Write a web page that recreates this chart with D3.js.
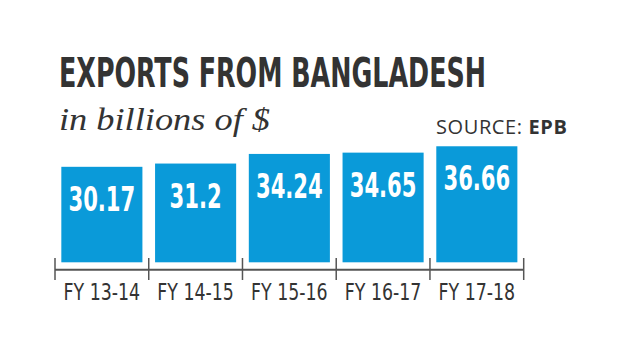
<!DOCTYPE html>
<html><head><meta charset="utf-8">
<script src="https://cdn.jsdelivr.net/npm/d3@7/dist/d3.min.js"></script>
<style>body{margin:0;background:#fff}</style>
</head><body>
<svg id="c" width="644" height="363"></svg>
<script>
const categories = ["FY 13-14","FY 14-15","FY 15-16","FY 16-17","FY 17-18"];
const values = [30.17, 31.2, 34.24, 34.65, 36.66];
const labels = ["30.17","31.2","34.24","34.65","36.66"];

const svg = d3.select("#c");
const condensed = "'Liberation Sans Narrow','DejaVu Sans Condensed','Arial Narrow',sans-serif";

function squeeze(sel, k){
  sel.each(function(){
    const w = this.getComputedTextLength();
    d3.select(this).attr("textLength", w*k).attr("lengthAdjust","spacingAndGlyphs");
  });
}

// Title
svg.append("text").attr("x",59).attr("y",87)
  .attr("font-family",condensed).attr("font-weight","bold").attr("font-size",40)
  .attr("fill","#333").attr("textLength",427).attr("lengthAdjust","spacingAndGlyphs")
  .text("EXPORTS FROM BANGLADESH");
svg.append("text").attr("x",59).attr("y",130)
  .attr("font-family","'Liberation Serif','DejaVu Serif',serif").attr("font-style","italic").attr("font-size",32)
  .attr("fill","#333").attr("textLength",211).attr("lengthAdjust","spacingAndGlyphs")
  .text("in billions of $");
const src = svg.append("text").attr("x",436).attr("y",134)
  .attr("font-family","'Open Sans',sans-serif").attr("font-size",20).attr("letter-spacing",0.6).attr("fill","#333");
src.append("tspan").text("SOURCE: ");
src.append("tspan").attr("font-weight","bold").text("EPB");

const x = d3.scaleBand().domain(categories).range([55,523.7]).paddingInner(0.135).paddingOuter(0.0675);
const y = d3.scaleLinear().domain([0,40]).range([262.3,262.3-126.6]);

svg.selectAll("rect.bar").data(values).join("rect").attr("class","bar")
  .attr("x",(d,i)=>x(categories[i])).attr("width",x.bandwidth())
  .attr("y",d=>y(d)).attr("height",d=>y(0)-y(d)).attr("fill","#0a9ad9");

svg.selectAll("text.val").data(values).join("text").attr("class","val")
  .attr("x",(d,i)=>x(categories[i])+x.bandwidth()/2).attr("y",d=>y(d)+44)
  .attr("text-anchor","middle").attr("font-family",condensed).attr("font-weight","bold")
  .attr("font-size",34).attr("fill","#fff")
  .text((d,i)=>labels[i])
  .call(squeeze, 0.69);

// axis
const axisY = 269.7;
const xr = x.range();
svg.append("line").attr("x1",xr[0]).attr("x2",xr[1]).attr("y1",axisY).attr("y2",axisY)
  .attr("stroke","#555").attr("stroke-width",2);
const tickXs = categories.map(c=>x(c)-x.step()*x.paddingInner()/2).concat([xr[1]]);
svg.selectAll("line.tick").data(tickXs).join("line").attr("class","tick")
  .attr("x1",d=>d).attr("x2",d=>d).attr("y1",258).attr("y2",280)
  .attr("stroke","#555").attr("stroke-width",1.5);
svg.selectAll("text.cat").data(categories).join("text").attr("class","cat")
  .attr("x",d=>x(d)+x.bandwidth()/2).attr("y",299.5).attr("text-anchor","middle")
  .attr("font-family",condensed).attr("font-size",23).attr("fill","#333")
  .text(d=>d)
  .call(squeeze, 0.84);
</script>
</body></html>
